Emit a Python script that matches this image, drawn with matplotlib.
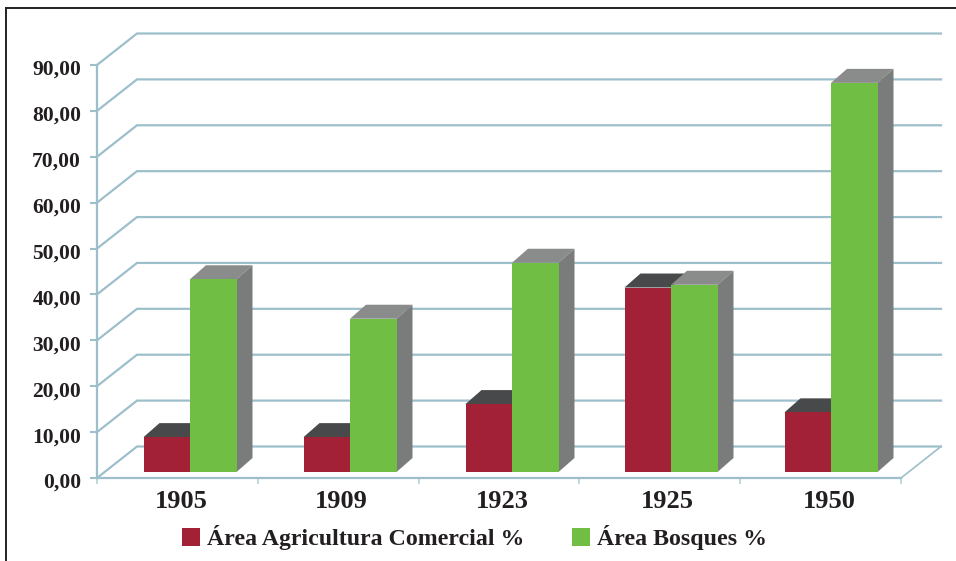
import matplotlib
matplotlib.use("Agg")
import matplotlib.pyplot as plt
import matplotlib.patches as patches
import matplotlib.lines as lines
from matplotlib.transforms import ScaledTranslation

plt.rcParams['font.family'] = ['Liberation Serif', 'DejaVu Serif']
plt.rcParams['font.weight'] = 'bold'

years = ['1905', '1909', '1923', '1925', '1950']
agricultura = [7.6, 7.6, 14.8, 40.2, 13.0]
bosques = [42.0, 33.4, 45.6, 40.8, 84.8]
y_ticks = [0, 10, 20, 30, 40, 50, 60, 70, 80, 90]
legend_labels = ['Área Agricultura Comercial %', 'Área Bosques %']

RED = '#a32136'
GREEN = '#70bf44'
GRID = '#9dbfcb'
TEXT = '#231f20'

# px -> data
W, H = 956, 561
x0, x1, y0, y90 = 97, 901, 478, 65
px_x = 5 / (x1 - x0)
px_y = 90 / (y0 - y90)

wall_dx = 40 * px_x
wall_dy = 31.5 * px_y
bar_dx = 16 * px_x
bar_dy = 14 * px_y
bar_w = 46.5 * px_x
base = 6 * px_y
# the groups are not evenly spaced in the source
centers = [(p - x0) * px_x for p in (190, 350, 512, 671, 831)]
label_pos = [(p - x0) * px_x for p in (181, 341, 502, 667, 829)]

fig = plt.figure(figsize=(W / 100, H / 100), dpi=100)
ax = fig.add_axes([x0 / W, (H - y0) / H, (x1 - x0) / W, (y0 - y90) / H])
ax.set_xlim(0, 5)
ax.set_ylim(0, 90)
ax.patch.set_visible(False)


def draw_depth(x, top, side_col, top_col, side=True):
    # top face and right face of the fake 3d bar
    left, right = x, x + bar_w
    t = patches.Polygon([(left, top), (left + bar_dx, top + bar_dy),
                         (right + bar_dx, top + bar_dy), (right, top)],
                        facecolor=top_col, edgecolor='none', zorder=3, clip_on=False)
    ax.add_patch(t)
    if side:
        s = patches.Polygon([(right, base), (right + bar_dx, base + bar_dy),
                             (right + bar_dx, top + bar_dy), (right, top)],
                            facecolor=side_col, edgecolor='none', zorder=3, clip_on=False)
        ax.add_patch(s)


# back wall and floor lines
for v in y_ticks:
    ax.plot([0, wall_dx, 5 + wall_dx], [v, v + wall_dy, v + wall_dy],
            color=GRID, lw=1.6, zorder=1, clip_on=False, solid_joinstyle='miter')
ax.plot([5, 5 + wall_dx], [0, wall_dy], color=GRID, lw=1.2, zorder=1, clip_on=False)

for i, c in enumerate(centers):
    draw_depth(c - bar_w, agricultura[i] + base, '#7a7c7c', '#47494a', side=False)
    draw_depth(c, bosques[i] + base, '#7a7c7c', '#8a8b8b')

red_bars = ax.bar(centers, agricultura, width=bar_w, bottom=base, align='edge', color=RED, zorder=4)
for b in red_bars:
    b.set_x(b.get_x() - bar_w)
green_bars = ax.bar(centers, bosques, width=bar_w, bottom=base, align='edge', color=GREEN, zorder=5)

for s in ['top', 'right']:
    ax.spines[s].set_visible(False)
for s in ['left', 'bottom']:
    ax.spines[s].set_color(GRID)
    ax.spines[s].set_linewidth(1.6)

ax.set_yticks(y_ticks)
ax.set_yticklabels(['%d,00' % v for v in y_ticks], fontsize=15.5, color=TEXT)
ax.set_xticks(range(6))
ax.set_xticklabels([])
ax.set_xticks(label_pos, labels=years, minor=True, fontsize=19, color=TEXT)
ax.tick_params(axis='y', length=5, width=1.5, color=GRID, pad=6.5)
ax.tick_params(axis='x', which='major', length=4, width=1.2, color='#b7cfd8')
ax.tick_params(axis='x', which='minor', length=0, pad=9)

# y labels sit a little under their ticks in the source
shift = ScaledTranslation(0, -2.5 / 100, fig.dpi_scale_trans)
for lab in ax.get_yticklabels():
    lab.set_transform(lab.get_transform() + shift)

ax.legend([red_bars[0], green_bars[0]], legend_labels, ncol=2, frameon=False,
          loc='center', bbox_to_anchor=(474.5 / W, (H - 538) / H), bbox_transform=fig.transFigure,
          fontsize=17.2, labelcolor=TEXT, handlelength=0.75, handleheight=0.75,
          handletextpad=0.3, columnspacing=1.97, borderpad=0)

# page frame, only top and left show
fig.add_artist(lines.Line2D([6 / W, 6 / W], [0, (H - 8) / H], color='#222222', lw=1.4))
fig.add_artist(lines.Line2D([6 / W, 1], [(H - 8) / H, (H - 8) / H], color='#222222', lw=1.4))

fig.savefig('out.png', dpi=100)
